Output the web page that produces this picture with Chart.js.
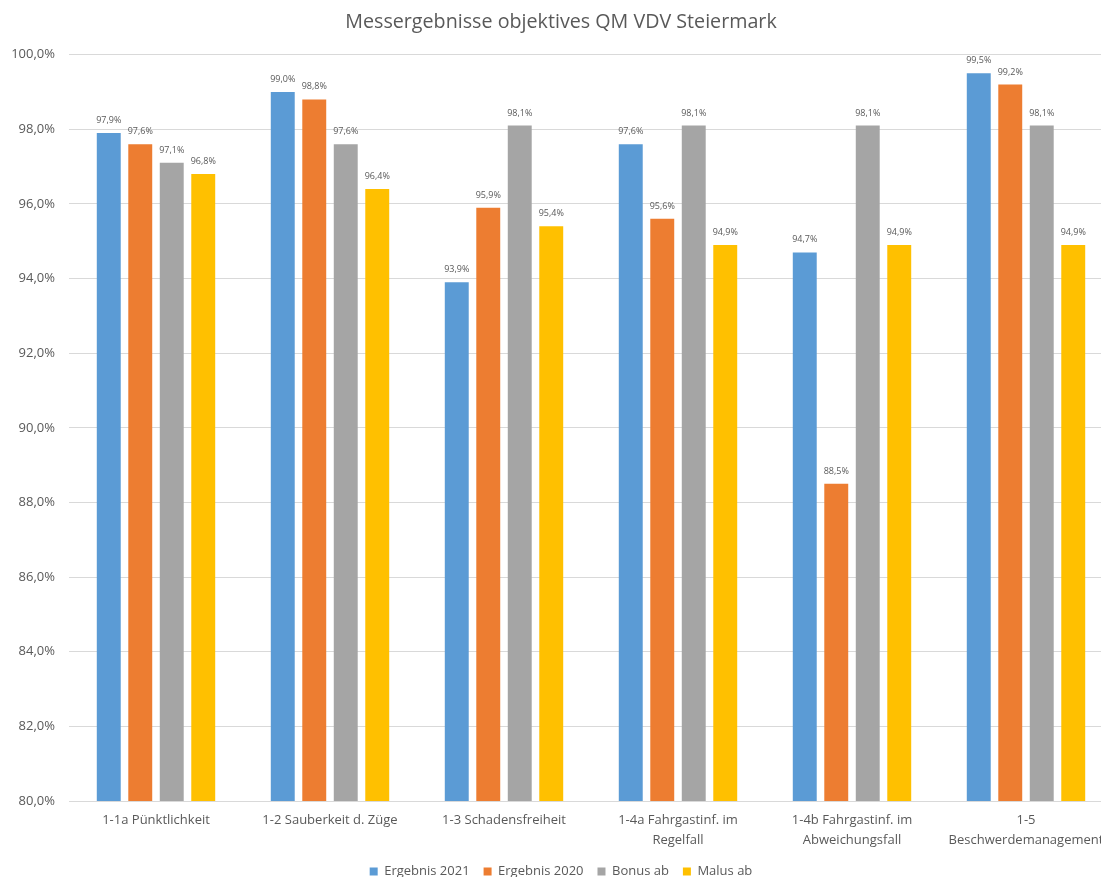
<!DOCTYPE html>
<html>
<head>
<meta charset="utf-8">
<script src="https://cdn.jsdelivr.net/npm/chart.js@4/dist/chart.umd.min.js"></script>
<style>
  html, body { margin: 0; padding: 0; background: #fff; overflow: hidden; }
  #wrap { width: 1130px; height: 888px; }
</style>
</head>
<body>
<div id="wrap"><canvas id="c" width="1130" height="888"></canvas></div>
<script>
// Kategorien (Qualitätskriterien)
const categories = [
  '1-1a Pünktlichkeit',
  '1-2 Sauberkeit d. Züge',
  '1-3 Schadensfreiheit',
  ['1-4a Fahrgastinf. im', 'Regelfall'],
  ['1-4b Fahrgastinf. im', 'Abweichungsfall'],
  ['1-5', 'Beschwerdemanagement']
];

// Messwerte in Prozent
const ergebnis2021 = [97.9, 99.0, 93.9, 97.6, 94.7, 99.5];
const ergebnis2020 = [97.6, 98.8, 95.9, 95.6, 88.5, 99.2];
const bonusAb      = [97.1, 97.6, 98.1, 98.1, 98.1, 98.1];
const malusAb      = [96.8, 96.4, 95.4, 94.9, 94.9, 94.9];

const seriesNames = ['Ergebnis 2021', 'Ergebnis 2020', 'Bonus ab', 'Malus ab'];
const seriesColors = ['#5B9BD5', '#ED7D31', '#A5A5A5', '#FFC000'];

const fmt = v => v.toFixed(1).replace('.', ',') + '%';
const textColor = '#595959';
const fontFamily = '"Open Sans", "Noto Sans", sans-serif';

// Wertbeschriftungen über den Balken
const valueLabels = {
  id: 'valueLabels',
  afterDatasetsDraw(chart) {
    const ctx = chart.ctx;
    ctx.save();
    ctx.font = '9px ' + fontFamily;
    ctx.fillStyle = textColor;
    ctx.textAlign = 'center';
    ctx.textBaseline = 'bottom';
    chart.data.datasets.forEach((ds, i) => {
      const meta = chart.getDatasetMeta(i);
      meta.data.forEach((bar, j) => {
        ctx.fillText(fmt(ds.data[j]), bar.x, bar.y - 8);
      });
    });
    ctx.restore();
  }
};

const allSeries = [ergebnis2021, ergebnis2020, bonusAb, malusAb];

new Chart(document.getElementById('c'), {
  type: 'bar',
  data: {
    labels: categories,
    datasets: allSeries.map((d, i) => ({
      label: seriesNames[i],
      data: d,
      backgroundColor: seriesColors[i],
      borderWidth: 0,
      categoryPercentage: 0.724,
      barPercentage: 0.76
    }))
  },
  options: {
    responsive: false,
    animation: false,
    layout: { padding: { left: 9, right: 17, top: 0, bottom: 0 } },
    plugins: {
      title: {
        display: true,
        text: 'Messergebnisse objektives QM VDV Steiermark',
        color: textColor,
        font: { family: fontFamily, size: 19.7, weight: 'normal' },
        padding: { top: 11, bottom: 20 }
      },
      legend: {
        position: 'bottom',
        labels: {
          color: textColor,
          font: { family: fontFamily, size: 13 },
          boxWidth: 8,
          boxHeight: 8,
          padding: 14
        }
      },
      tooltip: { enabled: false }
    },
    scales: {
      x: {
        grid: { display: false },
        border: { display: false },
        ticks: {
          color: textColor,
          font: { family: fontFamily, size: 13, lineHeight: 1.55 },
          maxRotation: 0,
          autoSkip: false,
          padding: 1
        },
        afterFit(scale) { scale.height = 50; }
      },
      y: {
        min: 80,
        max: 100,
        border: { display: false },
        grid: { color: '#D9D9D9', drawTicks: false, lineWidth: 1 },
        ticks: {
          stepSize: 2,
          color: textColor,
          font: { family: fontFamily, size: 13 },
          padding: 14,
          callback: v => fmt(v)
        },
        afterFit(scale) { scale.width = 60; }
      }
    }
  },
  plugins: [valueLabels]
});
</script>
</body>
</html>
